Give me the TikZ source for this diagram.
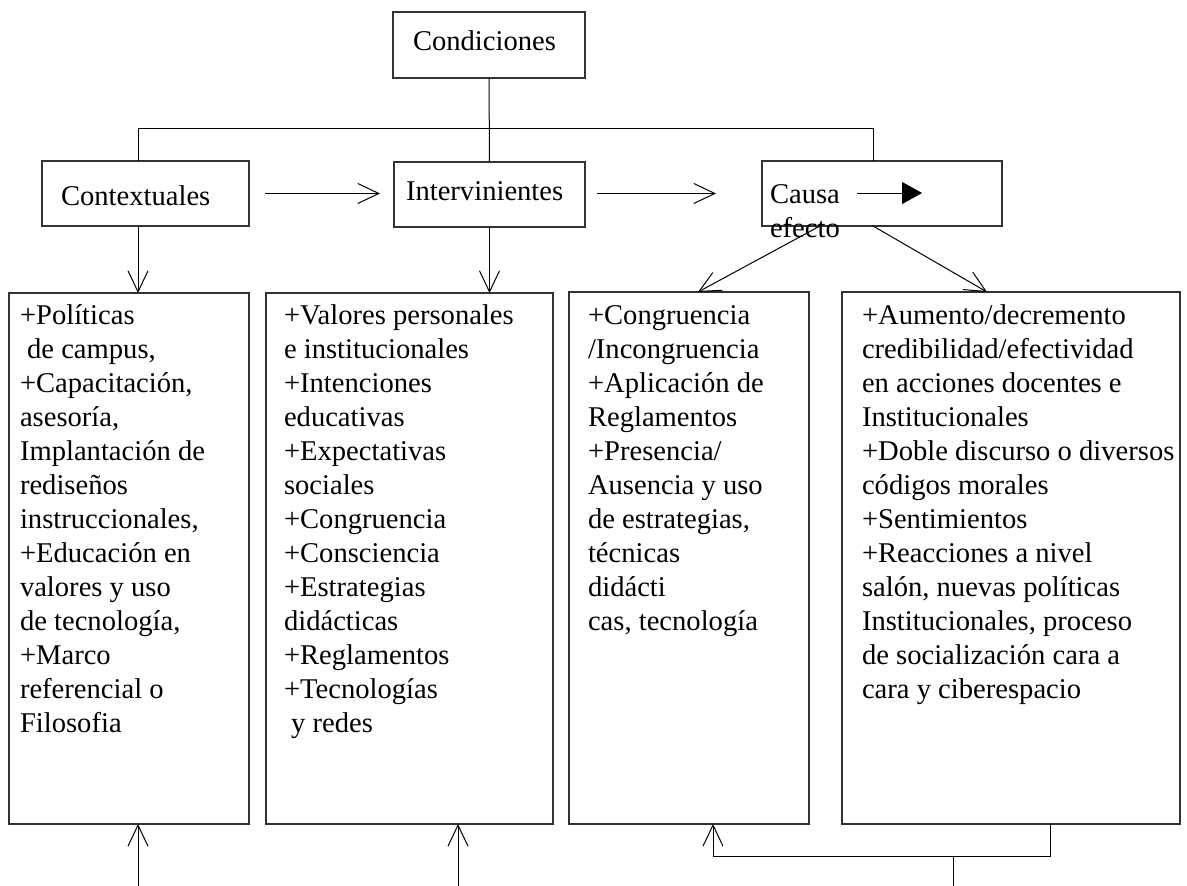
\documentclass[tikz,border=0pt]{standalone}
\usepackage{fontspec}
\setmainfont{Liberation Serif}
\usetikzlibrary{arrows.meta,calc}
\newcommand{\topstrut}{\rule{0pt}{29pt}}
\begin{document}
\begin{tikzpicture}[x=1pt,y=-1pt,
  box/.style={draw=black!80, line width=1.1pt, inner sep=0pt, outer sep=0pt, anchor=north west},
  txt/.style={anchor=north west, inner sep=0pt, outer sep=0pt, align=left, font=\fontsize{28.6}{34}\selectfont},
  conn/.style={line width=1pt, draw=black},
  openarrow/.style={conn, -{Straight Barb[length=21pt,width=20pt,line width=1pt]}},
]
\useasboundingbox (0,0) rectangle (1187,886);
% top boxes
\node[box, minimum width=192pt, minimum height=66pt] (cond) at (393,12) {};
\node[box, minimum width=207pt, minimum height=65pt] (ctx) at (42,161) {};
\node[box, minimum width=191pt, minimum height=65pt] (int) at (394,162) {};
\node[box, minimum width=240pt, minimum height=65pt] (cau) at (762,161) {};
% bottom boxes
\node[box, minimum width=240pt, minimum height=531pt] (b1) at (9,293) {};
\node[box, minimum width=287pt, minimum height=531pt] (b2) at (266,293) {};
\node[box, minimum width=240pt, minimum height=532pt] (b3) at (569,292) {};
\node[box, minimum width=338pt, minimum height=532pt] (b4) at (842,292) {};
% texts
\node[txt] (condT) at (413,21) {\topstrut Condiciones};
\node[txt] (ctxT) at (61,176) {\topstrut Contextuales};
\node[txt] (intT) at (406,171) {\topstrut Intervinientes};
\node[txt] (cauT) at (770,174) {\topstrut Causa\\efecto};
\node[txt] (b1T) at (20,295) {\topstrut +Políticas\\\hspace*{0.25em}de campus,\\+Capacitación,\\asesoría,\\Implantación de\\rediseños\\instruccionales,\\+Educación en\\valores y uso\\de tecnología,\\+Marco\\referencial o\\Filosofia};
\node[txt] (b2T) at (284,295) {\topstrut +Valores personales\\e institucionales\\+Intenciones\\educativas\\+Expectativas\\sociales\\+Congruencia\\+Consciencia\\+Estrategias\\didácticas\\+Reglamentos\\+Tecnologías\\\hspace*{0.25em}y redes};
\node[txt] (b3T) at (588,295) {\topstrut +Congruencia\\/Incongruencia\\+Aplicación de\\Reglamentos\\+Presencia/\\Ausencia y uso\\de estrategias,\\técnicas\\didácti\\cas, tecnología};
\node[txt] (b4T) at (862,295) {\topstrut +Aumento/decremento\\credibilidad/efectividad\\en acciones docentes e\\Institucionales\\+Doble discurso o diversos\\códigos morales\\+Sentimientos\\+Reacciones a nivel\\salón, nuevas políticas\\Institucionales, proceso\\de socialización cara a\\cara y ciberespacio};
% tree lines
\coordinate (hl) at (138,128);
\coordinate (hr) at (873,128);
\draw[conn] (cond.south) -- (int.north);
\draw[conn] (hl |- ctx.north) -- (hl) -- (hr) -- (hr |- cau.north);
% horizontal arrows
\draw[openarrow] ([xshift=16pt]ctx.east) -- ([xshift=-14pt]int.west |- ctx.east);
\draw[openarrow] ([xshift=12pt]int.east |- ctx.east) -- ([xshift=-46pt]cau.west |- ctx.east);
% arrow inside Causa box
\coordinate (ia1) at (857,193);
\coordinate (ia2) at (922,193);
\draw[conn, -{Triangle[length=20pt,width=22pt]}] (ia1) -- (ia2);
% down arrows
\draw[openarrow] (hl |- ctx.south) -- (hl |- b1.north);
\draw[openarrow] (int.south) -- (int.south |- b2.north);
\draw[openarrow] ([xshift=-62pt]cau.south) -- ([xshift=129pt]b3.north west);
\draw[openarrow] ([xshift=-9pt]cau.south) -- ([xshift=145pt]b4.north west);
% up arrows
\coordinate (u1) at (138,886);
\coordinate (u2) at (458,886);
\coordinate (u3) at (953,886);
\coordinate (bj) at (953,856);
\draw[openarrow] (u1) -- (u1 |- b1.south);
\draw[openarrow] (u2) -- (u2 |- b2.south);
\draw[conn] (u3) -- (bj);
\draw[openarrow] ([xshift=208pt]b4.south west) -- ++(0,32) -| ([xshift=144pt]b3.south west);
\end{tikzpicture}
\end{document}
